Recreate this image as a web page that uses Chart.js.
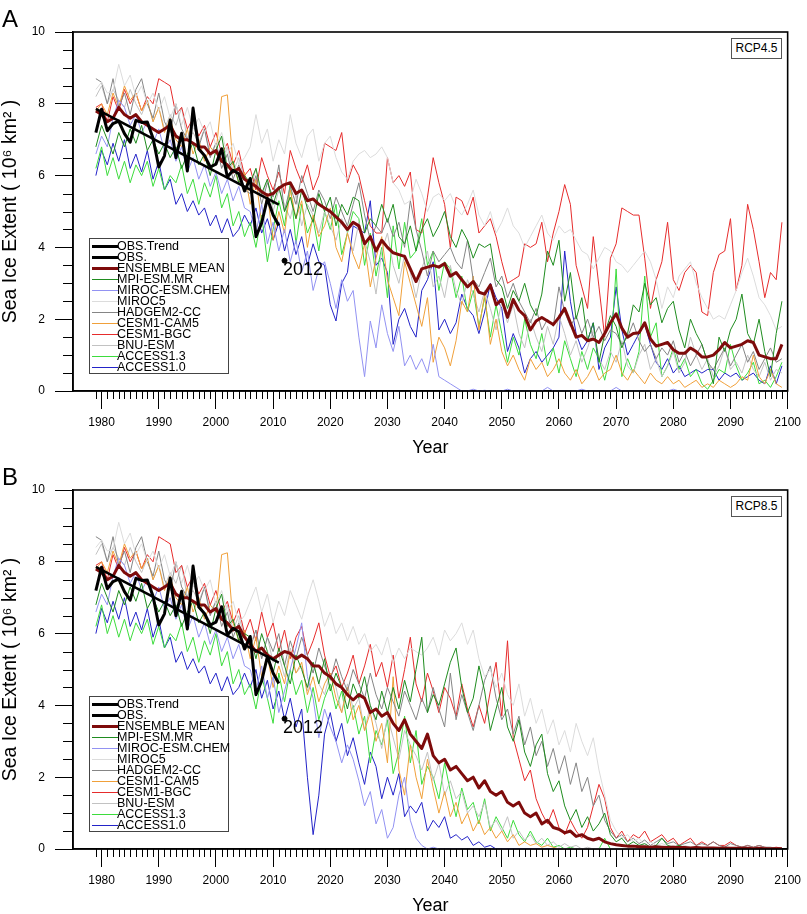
<!DOCTYPE html>
<html><head><meta charset="utf-8">
<script src="https://cdn.jsdelivr.net/npm/chart.js@4.4.1/dist/chart.umd.min.js"></script>
<style>
html,body{margin:0;padding:0;background:#fff;}
body{width:807px;height:914px;position:relative;overflow:hidden;font-family:"Liberation Sans",Arial,Helvetica,sans-serif;color:#000;}
.pane{position:absolute;left:0;width:807px;height:457px;}
.pane canvas{position:absolute;left:0;top:0;}
.plabel{position:absolute;left:2px;top:7px;font-size:24px;line-height:24px;}
.rcp{position:absolute;left:731px;top:38px;width:49px;height:19px;border:1px solid #555;font-size:12px;line-height:19px;text-align:center;background:#fff;}
.legend{position:absolute;left:89px;top:238px;width:138px;height:134px;border:1px solid #444;background:#fff;}
.row{position:absolute;left:0;height:11px;line-height:11px;font-size:12.5px;white-space:nowrap;}
.sw{position:absolute;left:2px;width:26px;}
.txt{position:absolute;left:27px;top:0;}
</style></head><body>
<div class="pane" id="paneA" style="top:0"><canvas id="cA" width="807" height="457"></canvas>
  <div class="plabel">A</div><div class="rcp">RCP4.5</div><div class="legend" id="legA"></div></div>
<div class="pane" id="paneB" style="top:458px"><canvas id="cB" width="807" height="457"></canvas>
  <div class="plabel">B</div><div class="rcp">RCP8.5</div><div class="legend" id="legB"></div></div>
<script>
// ---------------- DATA ----------------
const xTickValues = [1980,1990,2000,2010,2020,2030,2040,2050,2060,2070,2080,2090,2100];
const yTickValues = [0,2,4,6,8,10];
const histStart = 1979;      // historical runs 1979-2005
const scenStart = 2006;      // scenario runs 2006-2099

const obsStart = 1979;
const obs = [7.20,7.85,7.25,7.45,7.52,7.17,6.93,7.54,7.48,7.49,
             7.04,6.24,6.55,7.55,6.50,7.18,6.13,7.88,6.74,6.56,
             6.24,6.32,6.75,5.96,6.15,6.05,5.57,5.92,4.30,4.68,
             5.36,4.90,4.61];
const obs2012 = {year:2012, value:3.63};
const trendYears = [1979, 2011];
const trendValues = [7.86, 5.19];

// historical (1979-2005)
const hist_ENS  = [7.8,7.7,7.5,7.6,7.9,7.7,7.6,7.7,7.5,7.4, 7.3,7.2,7.3,7.4,7.1,7.0,7.0,6.9,6.8,6.8, 6.6,6.7,6.4,6.3,6.1,6.2,5.9];
const hist_MPI  = [6.8,7.4,7.0,6.6,7.2,6.8,7.3,6.9,7.4,6.7, 7.0,6.6,6.9,6.5,6.8,6.2,6.6,6.9,6.3,6.6, 6.0,6.7,7.1,6.2,6.4,5.8,6.0];
const hist_CHEM = [6.6,7.1,6.8,7.6,8.1,7.9,7.4,7.7,7.2,7.5, 6.9,7.3,6.7,7.0,6.4,6.8,6.1,6.5,5.9,6.3, 5.7,6.1,5.5,5.9,5.3,5.7,5.1];
const hist_MIR5 = [8.4,8.6,8.3,8.35,9.1,8.5,8.8,8.2,8.5,8.0, 8.3,7.8,8.2,7.6,8.0,7.4,7.9,7.3,7.6,7.2, 7.5,6.8,7.2,6.6,6.9,6.3,6.5];
const hist_HAD  = [8.7,8.6,8.0,8.7,7.9,8.3,7.7,8.4,8.7,8.0, 7.6,8.3,7.5,7.2,8.0,7.3,7.0,7.5,6.8,7.3, 6.5,6.9,6.2,6.6,5.9,6.3,5.6];
const hist_CAM5 = [7.8,8.0,7.7,8.3,7.9,8.5,8.1,8.3,7.8,8.1, 7.5,7.9,7.2,7.6,7.0,6.8,7.3,6.6,7.0,6.4, 6.8,6.6,8.2,8.25,6.3,5.8,6.1];
const hist_BGC  = [7.9,8.0,7.5,8.2,7.8,8.4,8.0,8.3,7.8,8.2, 8.0,8.7,8.6,8.5,7.7,7.9,7.3,7.6,7.1,7.4, 6.8,7.2,6.6,6.9,6.3,6.7,6.0];
const hist_BNU  = [8.2,8.5,8.0,8.4,8.1,7.9,8.4,8.0,7.7,8.1, 7.5,7.9,7.3,7.7,7.4,7.9,7.0,7.2,6.9,7.3, 6.6,6.9,6.4,6.8,6.1,6.5,5.9];
const hist_A13  = [6.2,6.8,6.0,6.5,5.9,6.4,5.8,6.3,6.0,6.4, 5.7,6.2,5.6,6.0,5.8,6.3,5.5,5.9,5.2,5.8, 5.4,6.0,5.1,5.5,4.6,5.0,4.3];
const hist_A10  = [6.0,6.7,6.3,6.9,6.4,7.0,6.2,6.6,6.1,6.7, 5.9,6.4,5.6,5.9,5.2,5.5,5.0,5.3,4.9,5.1, 4.6,4.9,4.4,4.8,4.3,4.5,4.9];

// RCP4.5 (2006-2099)
const r45_ENS = [5.8,5.7,5.55,5.45,5.5,5.65,5.75,5.8,5.5,5.6, 5.3,5.35,5.2,5.1,5.0,4.85,4.7,4.5,4.7,4.6,
  4.1,4.3,3.9,4.2,4.0,3.85,3.8,3.75,3.4,3.05, 3.4,3.45,3.5,3.45,3.55,3.2,3.3,3.1,2.9,3.05,
  2.75,2.7,2.95,2.4,2.55,2.05,2.55,2.25,2.1,1.7, 1.95,2.05,1.95,1.85,2.05,2.3,1.9,1.5,1.55,1.4,
  1.45,1.35,1.6,1.9,2.15,1.75,1.5,1.6,1.62,1.9, 1.45,1.25,1.3,1.35,1.15,1.05,1.05,1.2,1.1,0.95,
  0.95,1.0,1.15,1.35,1.2,1.25,1.3,1.4,1.35,1.0, 0.95,0.9,0.9,1.3];
const r45_BGC = [6.2,5.6,6.5,6.0,5.6,6.1,5.5,6.7,6.2,5.8, 6.3,5.6,6.0,6.9,6.8,6.7,7.2,5.8,6.3,6.0,
  5.3,4.6,4.4,4.4,6.5,5.8,6.0,5.7,6.1,4.5, 4.4,5.4,6.5,5.8,5.2,4.0,5.4,5.3,4.9,5.4,
  4.4,4.6,4.8,4.3,3.6,3.0,3.1,3.2,4.1,4.0, 4.1,4.7,3.6,4.4,5.0,5.75,5.2,3.5,2.9,2.3,
  4.3,2.9,1.5,3.7,4.1,5.1,5.0,4.9,4.9,3.7, 2.3,3.1,3.6,4.7,3.1,2.8,3.3,3.5,3.3,2.2,
  2.1,3.3,3.8,3.9,4.8,2.8,3.5,5.2,4.5,3.6, 2.6,3.3,3.1,4.7];
const r45_MPI = [5.8,6.2,5.5,5.9,5.2,5.7,5.0,5.4,4.8,5.6, 5.1,4.7,5.5,5.0,5.4,4.6,5.2,4.9,5.4,5.3,
  4.4,4.8,4.6,5.2,4.7,5.2,4.3,4.1,4.6,3.9, 4.5,4.8,4.3,4.6,5.0,4.3,4.0,4.5,4.2,3.7,
  4.1,4.0,4.1,3.1,2.9,2.3,2.8,2.5,3.0,2.4, 2.1,2.7,3.9,3.5,4.2,2.5,3.3,2.0,2.6,1.4,
  1.9,0.8,1.6,2.1,1.8,1.2,1.6,2.4,2.2,3.0, 2.4,2.6,1.9,2.3,2.5,1.7,1.2,2.0,1.6,1.3,
  0.8,0.2,1.5,1.1,1.7,2.0,2.7,1.6,1.3,2.0, 1.1,0.4,1.6,2.5];
const r45_A10 = [4.6,5.1,4.4,4.8,4.2,4.7,3.9,4.5,3.8,4.3, 3.5,4.1,3.6,3.5,2.4,1.95,3.0,3.3,4.6,4.5,
  4.4,5.3,3.5,3.7,3.3,1.3,2.0,2.3,1.8,1.5, 2.8,3.1,3.6,1.7,2.0,1.6,1.9,2.7,2.3,2.1,
  1.6,2.2,3.0,2.6,2.3,1.1,1.6,1.2,0.5,0.9, 1.1,0.8,1.0,1.2,1.5,3.9,2.5,1.6,1.15,1.4,
  1.9,0.6,1.2,1.5,2.9,1.7,1.0,1.3,1.6,1.85, 1.3,0.8,0.6,0.9,0.5,0.7,0.4,0.5,0.6,0.5,
  0.6,0.6,0.3,0.5,0.4,0.5,0.3,0.4,0.5,0.3, 0.2,0.7,0.2,0.7];
const r45_A13 = [4.7,4.0,4.9,3.6,4.5,5.3,4.6,5.8,4.1,5.2, 4.4,4.8,3.9,5.0,4.5,5.2,3.8,4.4,5.0,4.8,
  3.5,4.4,3.2,4.0,2.6,4.6,3.4,4.7,3.7,3.9, 4.8,3.5,3.9,2.8,3.6,3.4,2.6,3.2,2.2,2.8,
  1.8,2.6,1.5,2.4,1.6,0.8,1.5,1.0,2.0,1.3, 0.9,1.6,0.7,1.2,0.5,1.4,0.9,0.4,1.1,0.6,
  1.2,0.9,0.3,1.0,3.4,0.4,0.9,0.5,1.1,3.2, 1.5,1.9,0.4,0.7,1.2,0.6,0.9,0.4,0.6,0.2,
  0.05,0.3,0.6,0.5,1.3,0.7,0.3,0.5,0.8,0.2, 0.3,0.1,0.4,0.8];
const r45_CAM5 = [5.2,5.9,4.7,5.5,4.2,5.0,4.4,5.6,4.8,5.3, 4.0,4.9,4.3,4.6,5.1,4.0,3.6,4.4,3.8,3.4,
  4.1,2.9,3.7,4.3,3.1,2.6,2.1,3.6,3.0,2.4, 1.8,2.6,0.8,1.5,1.2,0.7,1.4,2.5,2.2,3.2,
  1.7,2.7,1.3,2.0,1.1,0.7,1.0,0.6,0.3,0.9, 0.6,0.8,0.4,0.6,0.9,0.5,0.3,0.6,0.2,0.4,
  0.7,0.3,0.5,0.6,1.0,0.5,0.3,0.6,0.4,0.2, 0.5,0.3,0.2,0.4,0.2,0.3,0.1,0.2,0.3,0.1,
  0.2,0.1,0.3,0.2,0.1,0.2,0.4,0.3,1.0,0.4, 0.2,0.6,0.2,0.1];
const r45_CHEM = [5.0,4.4,5.2,4.1,4.7,3.9,4.5,3.6,4.2,3.3, 3.9,2.8,3.4,3.6,3.0,2.3,3.1,2.5,2.8,1.5,
  0.4,1.95,1.2,2.4,1.6,1.1,1.8,0.7,1.0,0.6, 0.9,0.5,1.3,0.4,0.3,0.2,0.1,0.0,0.0,0.05,
  0.0,0.02,0.0,0.0,0.0,0.05,0.0,0.0,0.0,0.0, 0.0,0.0,0.1,0.0,0.0,0.0,0.0,0.0,0.05,0.0,
  0.0,0.0,0.0,0.0,0.1,0.0,0.0,0.0,0.0,0.0, 0.0,0.0,0.0,0.0,0.05,0.0,0.0,0.0,0.0,0.0,
  0.0,0.0,0.0,0.0,0.0,0.0,0.0,0.0,0.0,0.0, 0.0,0.0,0.0,0.0];
const r45_MIR5 = [6.8,7.7,6.9,7.3,6.4,7.0,6.6,7.7,6.9,6.5, 7.1,7.3,6.4,6.9,7.1,6.5,6.1,5.9,6.4,6.6,
  6.7,6.5,6.6,6.8,6.5,5.8,5.6,5.2,5.3,5.9, 5.5,5.0,5.4,5.5,5.3,5.5,5.1,4.9,5.2,5.6,
  4.9,4.6,5.0,4.4,4.7,5.1,4.6,4.4,4.0,4.3, 4.6,4.9,4.4,4.2,4.6,4.4,4.5,4.2,3.9,3.8,
  3.4,3.7,4.0,3.9,3.6,3.5,3.3,3.5,3.7,3.9, 3.6,3.1,2.3,2.9,2.6,3.2,3.4,3.6,3.0,2.6,
  2.3,2.0,2.1,2.0,2.4,2.8,3.3,3.7,3.2,2.6, 2.4,2.1,1.7,1.8];
const r45_BNU = [5.6,6.2,5.4,5.9,5.0,5.6,5.2,4.8,5.5,4.6, 5.2,4.9,4.4,5.0,4.6,4.2,4.8,4.4,3.9,4.7,
  4.2,3.6,2.7,3.9,4.4,3.5,3.0,3.8,3.3,2.6, 3.4,3.9,2.9,3.2,2.6,3.5,2.8,2.4,3.1,2.7,
  2.2,2.8,2.3,1.7,2.5,1.9,2.4,1.6,1.2,2.0, 1.5,1.1,1.8,1.3,2.1,1.6,1.0,1.4,0.8,1.2,
  1.7,0.9,0.6,1.1,0.8,1.4,0.7,0.5,1.0,1.3, 0.6,0.9,0.4,0.7,1.1,0.5,0.8,1.5,1.0,0.6,
  0.9,0.4,0.7,1.2,0.6,0.8,0.5,1.0,0.6,0.4, 0.8,0.3,0.6,0.5];
const r45_HAD = [5.5,6.0,5.2,5.8,5.4,6.3,5.0,5.7,5.2,6.0, 5.5,5.0,5.6,5.3,4.8,5.4,5.0,4.6,5.2,5.8,
  4.9,4.2,4.6,4.4,4.8,4.3,4.7,4.0,5.3,4.5, 3.9,3.2,3.9,3.6,3.8,4.0,3.6,3.4,4.2,3.1,
  2.9,3.3,3.7,2.9,3.2,2.6,3.0,2.5,2.2,1.9, 2.3,1.7,2.0,1.8,2.9,2.2,1.8,2.1,1.6,2.0,
  1.5,1.8,1.4,1.7,1.6,1.3,1.5,1.9,1.4,1.1, 1.3,0.9,1.2,1.0,1.4,0.8,1.1,0.7,1.0,1.3,
  0.8,0.6,0.9,1.2,0.7,1.0,1.3,0.8,1.1,0.6, 0.9,1.2,0.8,0.9];

// RCP8.5 (2006-2099)
const r85_ENS = [5.7,5.5,5.6,5.4,5.3,5.4,5.5,5.45,5.3,5.4, 5.3,5.1,5.1,4.9,4.8,4.6,4.5,4.3,4.15,4.3,
  4.2,3.8,3.9,3.7,3.8,3.5,3.3,3.6,3.2,3.0, 2.8,3.2,2.6,2.4,2.5,2.2,2.3,2.1,1.9,2.0,
  1.7,1.9,1.6,1.5,1.6,1.3,1.2,1.3,1.0,0.9, 1.0,0.7,0.8,0.6,0.55,0.45,0.5,0.35,0.4,0.3,
  0.25,0.3,0.2,0.15,0.12,0.1,0.08,0.08,0.06,0.06, 0.05,0.06,0.05,0.04,0.05,0.04,0.04,0.03,0.04,0.03,
  0.03,0.03,0.02,0.03,0.02,0.02,0.02,0.02,0.01,0.02, 0.01,0.01,0.01,0.01];
const r85_BGC = [6.4,5.8,6.6,5.9,6.3,5.5,6.1,5.3,5.9,6.2, 5.4,5.8,6.3,5.4,4.8,5.1,4.5,4.9,5.4,4.6,
  5.1,5.7,4.8,5.2,4.5,5.4,4.2,5.0,5.9,4.6, 4.1,4.9,4.4,3.8,4.5,4.2,3.7,4.6,3.9,3.4,
  4.0,3.5,4.4,5.2,3.7,5.8,3.1,2.5,1.9,2.2, 1.4,1.0,0.7,1.1,0.6,0.4,0.8,0.5,0.3,0.6,
  1.2,1.8,1.4,0.6,0.3,0.5,0.2,0.4,0.3,0.5, 0.2,0.3,0.4,0.2,0.3,0.1,0.2,0.3,0.1,0.2,
  0.1,0.2,0.1,0.1,0.2,0.1,0.05,0.1,0.05,0.1, 0.05,0.02,0.05,0.02];
const r85_MPI = [5.9,5.3,6.0,5.5,4.9,5.6,5.1,4.6,5.4,5.0, 4.5,5.2,4.6,5.3,4.4,4.9,4.5,3.9,4.6,4.2,
  4.8,4.0,3.6,4.4,3.8,4.5,3.9,4.7,4.1,5.0, 5.9,3.8,4.3,4.0,4.6,5.2,5.6,4.5,3.8,4.2,
  5.1,4.4,3.3,3.9,4.5,3.4,3.0,3.6,2.7,2.3, 2.9,3.2,2.1,1.6,1.9,1.2,0.8,1.1,0.6,0.9,
  0.5,0.7,1.0,0.4,0.2,0.3,0.1,0.2,0.1,0.15, 0.05,0.1,0.3,0.1,0.05,0.1,0.05,0.0,0.05,0.0,
  0.02,0.0,0.01,0.0,0.0,0.01,0.0,0.0,0.0,0.0, 0.0,0.0,0.0,0.0];
const r85_MIR5 = [6.9,7.3,6.6,7.1,6.3,6.9,6.5,7.2,6.8,6.4, 7.0,7.5,6.9,6.2,6.6,6.0,6.3,5.8,6.2,5.7,
  6.0,5.5,5.7,5.4,5.9,5.2,5.6,5.3,5.6,5.5, 5.4,5.6,5.9,5.4,6.1,5.8,6.0,6.3,5.7,6.1,
  5.3,4.8,5.0,4.5,4.9,4.3,4.0,4.6,3.7,4.2, 3.5,3.9,3.2,3.6,2.9,3.3,2.7,3.5,3.0,2.6,
  3.1,2.2,1.5,0.8,0.5,0.3,0.4,0.2,0.3,0.1, 0.2,0.1,0.15,0.1,0.1,0.05,0.1,0.05,0.05,0.0,
  0.05,0.0,0.02,0.0,0.0,0.02,0.0,0.0,0.0,0.0, 0.0,0.0,0.0,0.0];
const r85_BNU = [5.7,6.1,5.3,5.9,5.2,5.4,4.8,5.6,4.9,5.1, 4.4,5.2,4.6,4.3,4.9,4.5,3.8,4.6,3.9,4.2,
  3.3,4.0,3.5,2.8,3.7,3.1,2.5,3.3,2.9,2.6, 2.2,2.7,1.9,2.4,1.5,1.9,1.4,1.6,1.0,1.2,
  0.9,1.3,0.6,0.8,0.5,0.9,0.3,0.5,0.25,0.4, 0.15,0.3,0.1,0.2,0.05,0.15,0.05,0.1,0.0,0.05,
  0.0,0.02,0.0,0.0,0.0,0.0,0.0,0.0,0.0,0.0, 0.0,0.0,0.0,0.0,0.0,0.0,0.0,0.0,0.0,0.0,
  0.0,0.0,0.0,0.0,0.0,0.0,0.0,0.0,0.0,0.0, 0.0,0.0,0.0,0.0];
const r85_HAD = [5.6,6.1,5.3,5.9,5.5,6.0,5.1,5.8,5.3,5.9, 5.4,4.9,5.6,5.1,4.7,5.3,4.8,4.4,5.0,4.6,
  4.2,4.9,4.3,3.9,4.5,4.1,3.7,4.4,4.0,3.6, 4.2,3.8,4.5,3.9,3.4,4.9,3.6,4.3,3.8,3.3,
  4.0,4.7,5.1,4.2,3.6,3.9,3.2,3.7,2.9,3.4, 2.6,3.0,2.3,2.8,2.1,2.6,1.8,2.4,1.6,2.0,
  1.2,1.5,0.8,0.5,0.3,0.4,0.2,0.3,0.15,0.25, 0.1,0.2,0.3,0.15,0.2,0.1,0.15,0.2,0.1,0.15,
  0.1,0.2,0.1,0.05,0.15,0.1,0.05,0.1,0.05,0.1, 0.05,0.05,0.02,0.02];
const r85_CAM5 = [5.3,5.9,4.8,5.4,4.5,5.1,4.6,5.5,4.9,5.2, 4.3,4.8,4.1,4.6,4.9,4.2,3.8,4.5,3.6,4.0,
  3.3,3.8,3.0,3.5,2.4,4.8,2.2,1.5,2.9,2.0, 1.4,2.5,1.7,1.0,1.6,0.9,1.3,0.7,1.0,0.5,
  0.8,0.4,0.6,0.3,0.5,0.2,0.4,0.1,0.2,0.1, 0.15,0.05,0.1,0.05,0.0,0.0,0.0,0.0,0.0,0.0,
  0.0,0.0,0.0,0.0,0.0,0.0,0.0,0.0,0.0,0.0, 0.0,0.0,0.0,0.0,0.0,0.0,0.0,0.0,0.0,0.0,
  0.0,0.0,0.0,0.0,0.0,0.0,0.0,0.0,0.0,0.0, 0.0,0.0,0.0,0.0];
const r85_CHEM = [5.0,4.4,5.1,4.2,4.8,3.8,4.4,5.0,5.6,6.3, 4.8,4.2,3.1,3.9,3.4,3.0,2.4,2.9,2.5,1.9,
  1.2,1.6,0.7,1.1,0.3,0.6,1.5,2.0,0.8,0.3, 0.1,0.0,0.05,0.0,0.0,0.0,0.0,0.0,0.0,0.0,
  0.0,0.0,0.0,0.0,0.0,0.0,0.0,0.0,0.0,0.0, 0.0,0.0,0.0,0.0,0.0,0.0,0.0,0.0,0.0,0.0,
  0.0,0.0,0.0,0.0,0.0,0.0,0.0,0.0,0.0,0.0, 0.0,0.0,0.0,0.0,0.0,0.0,0.0,0.0,0.0,0.0,
  0.0,0.0,0.0,0.0,0.0,0.0,0.0,0.0,0.0,0.0, 0.0,0.0,0.0,0.0];
const r85_A13 = [4.6,3.9,4.8,4.2,3.5,4.9,4.1,5.0,4.3,4.7, 3.8,4.5,3.6,4.2,4.6,3.9,4.4,3.5,4.0,3.2,
  3.7,2.4,3.3,2.9,3.6,2.1,2.7,3.7,2.4,3.3, 1.8,2.3,2.0,1.4,2.4,1.6,0.9,1.7,1.1,1.3,
  0.7,1.4,0.5,0.9,0.6,0.3,0.8,0.4,0.2,0.5, 0.2,0.1,0.3,0.05,0.1,0.0,0.05,0.0,0.0,0.0,
  0.0,0.0,0.3,0.0,0.0,0.0,0.0,0.0,0.0,0.0, 0.0,0.0,0.0,0.0,0.0,0.0,0.0,0.0,0.0,0.0,
  0.0,0.0,0.0,0.0,0.0,0.0,0.0,0.0,0.0,0.0, 0.0,0.0,0.0,0.0];
const r85_A10 = [4.5,5.0,4.2,4.7,3.9,4.4,3.6,4.2,3.4,3.9, 2.0,0.4,1.5,3.2,3.8,3.0,3.5,2.6,3.1,2.4,
  1.8,2.7,2.3,1.4,2.0,1.5,2.1,0.9,1.2,1.0, 1.3,0.5,0.8,0.6,0.9,0.3,0.4,0.25,0.35,0.1,
  0.2,0.05,0.1,0.0,0.0,0.0,0.0,0.0,0.0,0.0, 0.0,0.0,0.0,0.0,0.0,0.0,0.0,0.0,0.0,0.0,
  0.0,0.0,0.0,0.0,0.0,0.0,0.0,0.0,0.0,0.0, 0.0,0.0,0.0,0.0,0.0,0.0,0.0,0.0,0.0,0.0,
  0.0,0.0,0.0,0.0,0.0,0.0,0.0,0.0,0.0,0.0, 0.0,0.0,0.0,0.0];

const modelNames  = ['MPI-ESM.MR','MIROC-ESM.CHEM','MIROC5','HADGEM2-CC','CESM1-CAM5','CESM1-BGC','BNU-ESM','ACCESS1.3','ACCESS1.0'];
const modelColors = ['#1f8c1f','#9292f2','#dcdcdc','#858585','#f0a03a','#e62c2c','#c2c2c2','#3ddc3d','#2323c8'];
const modelHist = [hist_MPI,hist_CHEM,hist_MIR5,hist_HAD,hist_CAM5,hist_BGC,hist_BNU,hist_A13,hist_A10];
const modelR45  = [r45_MPI,r45_CHEM,r45_MIR5,r45_HAD,r45_CAM5,r45_BGC,r45_BNU,r45_A13,r45_A10];
const modelR85  = [r85_MPI,r85_CHEM,r85_MIR5,r85_HAD,r85_CAM5,r85_BGC,r85_BNU,r85_A13,r85_A10];

// ---------------- CHART ----------------
const FONT = '"Liberation Sans", Arial, Helvetica, sans-serif';
Chart.defaults.font.family = FONT;
Chart.defaults.color = '#000';

[...modelR45, ...modelR85, r45_ENS, r85_ENS].forEach((a,i)=>{ if(a.length!==94) console.error('bad length', i, a.length); });

function toPts(start, arr){ return arr.map((v,i)=>({x:start+i, y:v})); }
function joinPts(hist, scen){ return toPts(histStart, hist).concat(toPts(scenStart, scen)); }

const framePlugin = {
  id:'frame',
  afterDraw(chart){
    const {ctx, chartArea:a, scales:{x, y}} = chart;
    ctx.save();
    ctx.strokeStyle = '#000';
    ctx.lineWidth = 1;
    ctx.beginPath();
    for (let yr = 1979; yr <= 2099; yr++) {
      if (yr % 10 === 0) continue;
      const px = Math.round(x.getPixelForValue(yr)) + 0.5;
      ctx.moveTo(px, a.bottom); ctx.lineTo(px, a.bottom + 8);
    }
    for (let v = 0.5; v < 10; v += 0.5) {
      if (v % 2 === 0) continue;
      const py = Math.round(y.getPixelForValue(v)) + 0.5;
      ctx.moveTo(a.left - 10, py); ctx.lineTo(a.left, py);
    }
    ctx.stroke();
    ctx.lineWidth = 1.6;
    ctx.strokeRect(a.left, a.top, a.right - a.left, a.bottom - a.top);
    // 2012 annotation
    const idx = chart.data.datasets.findIndex(d => d.isMarker);
    const el = chart.getDatasetMeta(idx).data[0];
    ctx.fillStyle = '#000';
    ctx.font = '18px ' + FONT;
    ctx.textBaseline = 'alphabetic';
    ctx.textAlign = 'left';
    ctx.fillText(String(obs2012.year), el.x - 1.5, el.y + 14);
    ctx.restore();
  }
};

function buildLegend(id, entries){
  const box = document.getElementById(id);
  entries.forEach((e,i)=>{
    const row = document.createElement('div');
    row.className = 'row';
    row.style.top = (1.5 + 11*i) + 'px';
    const sw = document.createElement('span');
    sw.className = 'sw';
    sw.style.height = e.w + 'px';
    sw.style.top = (5.5 - e.w/2) + 'px';
    sw.style.background = e.c;
    const t = document.createElement('span');
    t.className = 'txt';
    t.textContent = e.label;
    row.appendChild(sw); row.appendChild(t);
    box.appendChild(row);
  });
}

function makeChart(canvasId, legendId, ens, scen){
  const ds = [];
  const entries = [];
  ds.push({label:'OBS.Trend', data: trendYears.map((x,i)=>({x, y:trendValues[i]})), borderColor:'#000', borderWidth:2.5});
  entries.push({label:'OBS.Trend', c:'#000', w:3});
  ds.push({label:'OBS.', data: toPts(obsStart, obs), borderColor:'#000', borderWidth:3});
  entries.push({label:'OBS.', c:'#000', w:3});
  ds.push({label:'ENSEMBLE MEAN', data: joinPts(hist_ENS, ens), borderColor:'#7e0b0b', borderWidth:3});
  entries.push({label:'ENSEMBLE MEAN', c:'#7e0b0b', w:3});
  modelNames.forEach((n,i)=>{
    ds.push({label:n, data: joinPts(modelHist[i], scen[i]), borderColor:modelColors[i], borderWidth:1});
    entries.push({label:n, c:modelColors[i], w:1});
  });
  ds.unshift({label:'2012', isMarker:true, data:[{x:obs2012.year, y:obs2012.value}], showLine:false,
    pointRadius:2.5, pointBackgroundColor:'#000', pointBorderColor:'#000', borderColor:'#000'});
  buildLegend(legendId, entries);

  return new Chart(document.getElementById(canvasId), {
    type:'line',
    data:{datasets:ds},
    options:{
      responsive:false, animation:false, devicePixelRatio:1,
      layout:{padding:{left:0, top:32, right:15, bottom:0}},
      plugins:{legend:{display:false}, tooltip:{enabled:false}},
      elements:{line:{tension:0, borderJoinStyle:'round', fill:false}, point:{radius:0}},
      scales:{
        x:{type:'linear', min:1975, max:2100,
          afterBuildTicks: s => { s.ticks = xTickValues.map(v => ({value:v})); },
          afterFit: s => { s.height = 66; },
          ticks:{color:'#000', font:{size:12}, padding:6, maxRotation:0, autoSkip:false, callback: v => String(v)},
          grid:{drawOnChartArea:false, drawTicks:true, tickLength:18, color:'#000', lineWidth:1},
          border:{display:true, color:'#000', width:1.5},
          title:{display:true, text:'Year', color:'#000', font:{size:18, lineHeight:1}, padding:{top:0, bottom:0}}
        },
        y:{min:0, max:10,
          afterBuildTicks: s => { s.ticks = yTickValues.map(v => ({value:v})); },
          afterFit: s => { s.width = 73; },
          ticks:{color:'#000', font:{size:12}, padding:10, callback: v => String(v)},
          grid:{drawOnChartArea:false, drawTicks:true, tickLength:18, color:'#000', lineWidth:1},
          border:{display:true, color:'#000', width:1.5},
          title:{display:true, text:'Sea Ice Extent ( 10\u2076 km\u00B2 )', color:'#000', font:{size:19.5, lineHeight:1}, padding:{top:1, bottom:0}}
        }
      }
    },
    plugins:[framePlugin]
  });
}

makeChart('cA', 'legA', r45_ENS, modelR45);
makeChart('cB', 'legB', r85_ENS, modelR85);
</script>
</body></html>
